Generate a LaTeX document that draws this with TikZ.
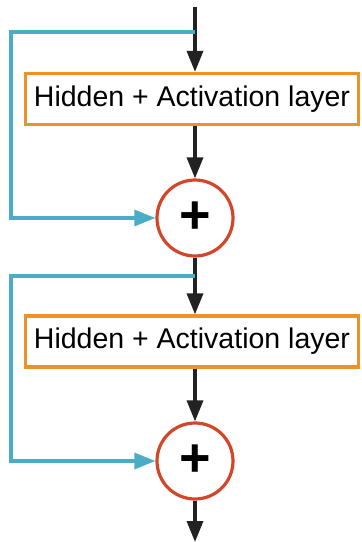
\documentclass[tikz,border=0pt]{standalone}
\usepackage{fontspec}
\setmainfont{Liberation Sans}
\usetikzlibrary{arrows.meta}
\definecolor{bleu}{HTML}{4BACC6}
\definecolor{orange}{HTML}{EE9127}
\definecolor{rouge}{HTML}{D2472A}
\definecolor{noir}{HTML}{222222}
\begin{document}
\begin{tikzpicture}[x=1pt, y=-1pt]
			\tikzset{couche/.style={draw=orange, line width=3.2pt, fill=white, minimum width=333pt, minimum height=51pt, inner sep=0pt, font=\fontsize{28.5}{34}\selectfont},
				somme/.style={circle, draw=rouge, line width=3.2pt, fill=white, minimum size=76pt, inner sep=0pt, font=\fontsize{54}{60}\selectfont\bfseries},
				fleche/.style={noir, line width=3.4pt, -{Triangle[length=21pt, width=16pt]}},
				saut/.style={bleu, line width=3.2pt, -{Triangle[length=21pt, width=16pt]}}};

			\useasboundingbox (0,0) rectangle (362,542);

			\coordinate (haut) at ( 195,   7);
			\coordinate (s1)   at ( 195,  32);
			\node[couche] (h1) at ( 192,  99) {Hidden + Activation layer};
			\node[somme]  (p1) at ( 195, 218) {+};
			\coordinate (s2)   at ( 195, 276);
			\node[couche] (h2) at ( 192, 341.5) {Hidden + Activation layer};
			\node[somme]  (p2) at ( 195, 461) {+};
			\coordinate (bas)  at ( 195, 542);

			\draw[fleche] (haut) -- (haut |- h1.north);
			\draw[fleche] (p1 |- h1.south) -- (p1);
			\draw[fleche] (p1) -- (p1 |- h2.north);
			\draw[fleche] (p2 |- h2.south) -- (p2);
			\draw[fleche] (p2) -- (bas);

			\draw[saut] (s1) -- ++(-184,0) |- (p1);
			\draw[saut] (s2) -- ++(-184,0) |- (p2);

		\end{tikzpicture}
\end{document}
